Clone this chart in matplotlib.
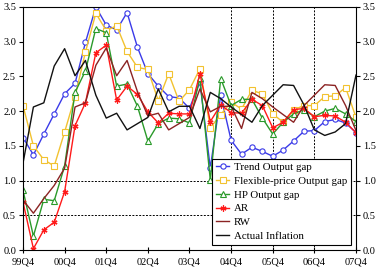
import numpy as np
import matplotlib
matplotlib.use("Agg")
import matplotlib.pyplot as plt

# quarterly data, 99Q4 .. 07Q4
year_labels = ["99Q4", "00Q4", "01Q4", "02Q4", "03Q4", "04Q4", "05Q4", "06Q4", "07Q4"]

trend = [1.62, 1.37, 1.67, 1.96, 2.25, 2.40, 2.99, 3.50, 3.24, 3.17, 3.42, 2.92, 2.54,
         2.36, 2.21, 2.19, 2.04, 2.42, 1.18, 2.23, 1.58, 1.38, 1.48, 1.42, 1.35, 1.44,
         1.57, 1.71, 1.72, 1.85, 1.88, 1.83, 1.69]
flex = [2.08, 1.50, 1.30, 1.21, 1.70, 2.21, 2.85, 3.41, 3.16, 3.23, 2.86, 2.63, 2.60,
        2.15, 2.54, 2.14, 2.31, 2.61, 1.76, 1.95, 2.13, 2.03, 2.30, 2.25, 1.96, 1.84,
        2.02, 2.08, 2.08, 2.21, 2.22, 2.34, 1.91]
hp = [0.86, 0.20, 0.73, 0.71, 1.21, 2.27, 2.58, 3.19, 3.13, 2.36, 2.39, 2.07, 1.57,
      1.82, 1.90, 1.89, 1.83, 2.48, 1.01, 2.47, 2.08, 2.17, 2.17, 1.90, 1.67, 1.84,
      1.96, 2.02, 1.92, 2.00, 2.04, 1.96, 1.85]
ar = [0.69, 0.02, 0.29, 0.40, 0.84, 1.79, 2.12, 2.84, 2.95, 2.16, 2.36, 2.24, 1.99,
      1.83, 1.97, 1.96, 1.96, 2.54, 1.85, 2.09, 1.98, 1.97, 2.17, 2.08, 1.76, 1.84,
      2.02, 2.04, 1.92, 1.94, 1.93, 1.84, 1.69]
rw = [0.72, 0.53, 0.74, 0.93, 1.18, 2.06, 2.12, 2.66, 2.91, 2.51, 2.73, 2.28, 1.93,
      1.97, 1.73, 1.82, 1.91, 2.32, 1.99, 2.07, 2.07, 1.75, 2.27, 2.18, 2.06, 1.95,
      1.84, 2.08, 2.23, 2.38, 2.37, 2.08, 1.72]
actual = [1.25, 2.06, 2.12, 2.65, 2.90, 2.51, 2.73, 2.23, 1.90, 1.97, 1.73, 1.82, 1.91,
          2.32, 1.99, 2.07, 2.07, 1.75, 2.27, 2.18, 2.06, 1.95, 1.84, 2.08, 2.23, 2.38,
          2.37, 2.09, 1.73, 1.65, 1.70, 1.82, 2.52]

plt.rcParams['font.family'] = ['Liberation Serif', 'DejaVu Serif']

x = np.arange(len(trend))

fig = plt.figure(figsize=(3.8, 2.73), dpi=100)
ax = fig.add_axes([23 / 380, 1 - 250 / 273, 333 / 380, 243 / 273])

# dotted reference lines
for v in [1.0, 0.5]:
    ax.axhline(v, color="black", lw=0.7, ls=(0, (2, 1.5)), zorder=1)
for q in [20, 24, 28]:
    ax.axvline(q, color="black", lw=0.7, ls=(0, (2, 1.5)), zorder=1)

ms = 3.8
ax.plot(x, trend, color="#3a3ae8", lw=1, marker="o", ms=ms, mfc="white",
        mew=0.8, label="Trend Output gap")
ax.plot(x, flex, color="#f2c230", lw=1, marker="s", ms=ms, mfc="white",
        mew=0.8, label="Flexible-price Output gap")
ax.plot(x, hp, color="#2a9a2a", lw=1, marker="^", ms=ms, mfc="white",
        mew=0.8, label="HP Output gap")
ax.plot(x, ar, color="#ff1a1a", lw=1, marker=(6, 2, 0), ms=ms + 0.5,
        mew=0.9, label="AR")
ax.plot(x, rw, color="#8b2323", lw=1, label="RW")
ax.plot(x, actual, color="#111111", lw=1, label="Actual Inflation")

ax.set_xlim(0, 32)
ax.set_ylim(0, 3.5)
ax.set_xticks(np.arange(0, 33, 4))
ax.set_xticklabels(year_labels)
yt = np.arange(0, 3.51, 0.5)
ax.set_yticks(yt)
ax.set_yticklabels([f"{v:.1f}" for v in yt])
ax.tick_params(axis="y", direction="out", length=3, width=0.8, labelsize=7.5,
               right=True, labelright=True, pad=2)
ax.tick_params(axis="x", direction="inout", length=5, width=0.8, labelsize=7.5, pad=3)
for s in ax.spines.values():
    s.set_linewidth(0.8)

leg = ax.legend(loc="lower right", fontsize=7.8, frameon=True, fancybox=False,
                edgecolor="black", framealpha=1, handlelength=1.2,
                handletextpad=0.4, borderpad=0.35, labelspacing=0.38,
                borderaxespad=0.5)
leg.get_frame().set_linewidth(0.8)

fig.savefig("out.png", dpi=100)
